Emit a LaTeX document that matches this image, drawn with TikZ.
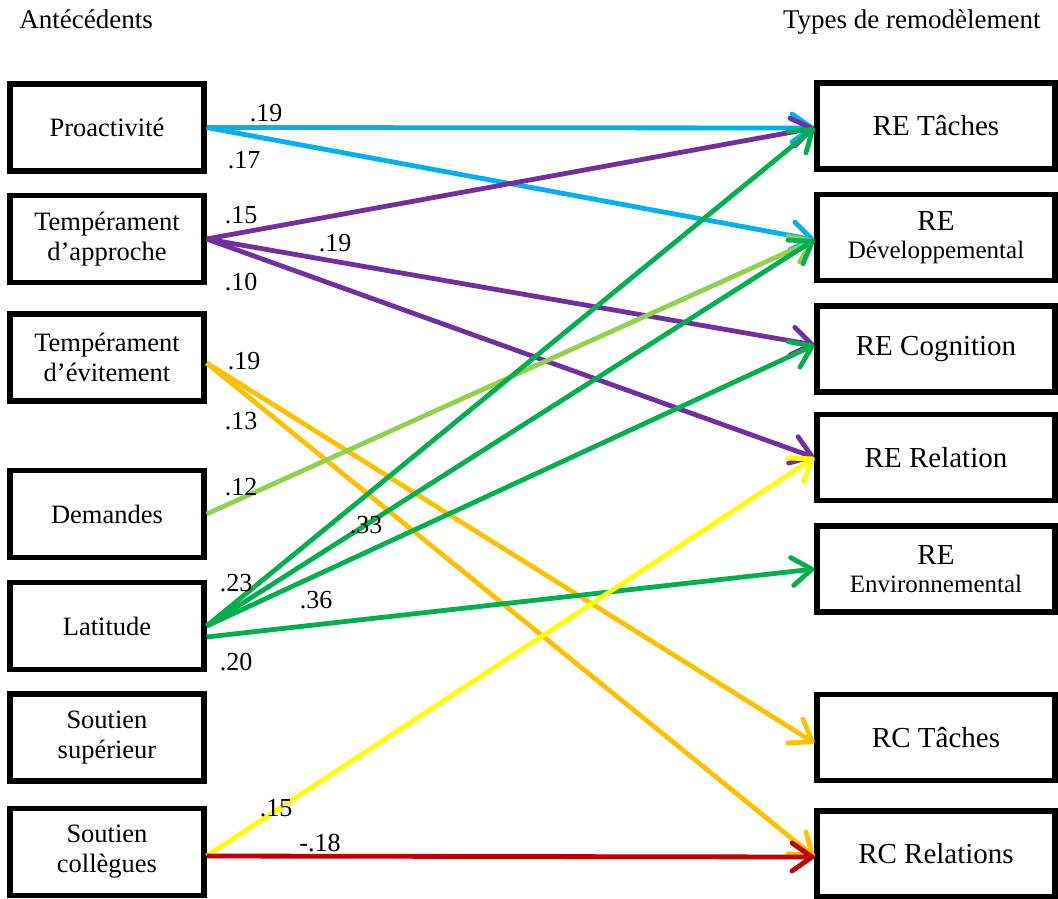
\documentclass[tikz,border=0pt]{standalone}
\usepackage{fontspec}
\setmainfont{Liberation Serif}
\usetikzlibrary{arrows.meta}
\definecolor{cCyan}{HTML}{00B0F0}
\definecolor{cPurple}{HTML}{7030A0}
\definecolor{cAmber}{HTML}{FFC000}
\definecolor{cLight}{HTML}{92D050}
\definecolor{cGreen}{HTML}{00B050}
\definecolor{cYellow}{HTML}{FFFF00}
\definecolor{cRed}{HTML}{C00000}
\begin{document}
\begin{tikzpicture}[x=0.5pt,y=-0.5pt,
  lbox/.style={draw, line width=2.6pt, minimum width=97pt, minimum height=43.5pt, inner sep=0pt, align=center, font=\fontsize{13.25}{15}\selectfont},
  rbox/.style={draw, line width=2.6pt, minimum width=119pt, minimum height=43pt, inner sep=0pt, align=center, font=\fontsize{14.5}{14}\selectfont},
  coef/.style={inner sep=0pt, font=\fontsize{13}{13}\selectfont},
  header/.style={inner sep=0pt, font=\fontsize{13.5}{13.5}\selectfont},
  link/.style={line width=2.4pt, -{Straight Barb[length=10pt,width=14pt,round]}}]
\useasboundingbox (0,0) rectangle (1058,898);

% headers
\node[header, anchor=base west] (hl) at (19,29) {Antécédents};
\node[header, anchor=base east] (hr) at (1041,29) {Types de remodèlement};

% left boxes
\node[lbox] (pro) at (107,127.5) {Proactivité};
\node[lbox] (tap) at (107,239) {Tempérament\\d’approche};
\node[lbox] (tev) at (107,357.5) {Tempérament\\d’évitement};
\node[lbox] (dem) at (107,514) {Demandes};
\node[lbox] (lat) at (107,626) {Latitude};
\node[lbox] (ssup) at (107,737.5) {Soutien\\supérieur};
\node[lbox] (scol) at (107,852) {Soutien\\collègues};

% right boxes
\node[rbox] (ret) at (936,126) {RE Tâches};
\node[rbox] (red) at (936,237.5) {RE\\{\fontsize{12.5}{14}\selectfont Développemental}};
\node[rbox] (rec) at (936,349) {RE Cognition};
\node[rbox] (rer) at (936,457.5) {RE Relation};
\node[rbox] (ree) at (936,569) {RE\\{\fontsize{12.5}{14}\selectfont Environnemental}};
\node[rbox] (rct) at (936,737.5) {RC Tâches};
\node[rbox] (rcr) at (936,854) {RC Relations};

% connectors
\draw[link, cCyan] (pro.east) -- ([yshift=-1pt]ret.west);
\draw[link, cCyan] (pro.east) -- ([yshift=-1.2pt]red.west);

\draw[link, cPurple] (tap.east) -- ([yshift=-1pt]ret.west);
\draw[link, cPurple] (tap.east) -- ([yshift=2pt]rec.west);
\draw[link, cPurple] (tap.east) -- (rer.west);

\draw[link, cAmber] ([yshift=-2.75pt]tev.east) -- ([yshift=-2.75pt]rct.west);
\draw[link, cAmber] ([yshift=-2.75pt]tev.east) -- ([yshift=-1.5pt]rcr.west);

\draw[link, cLight] (dem.east) -- ([yshift=-1.2pt]red.west);

\draw[link, cGreen] (lat.east) -- ([yshift=-1pt]ret.west);
\draw[link, cGreen] (lat.east) -- ([yshift=-1.2pt]red.west);
\draw[link, cGreen] (lat.east) -- ([yshift=2pt]rec.west);
\draw[link, cGreen] ([yshift=-5.5pt]lat.east) -- (ree.west);

\draw[link, cYellow] ([yshift=-2pt]scol.east) -- (rer.west);
\draw[link, cRed] ([yshift=-2pt]scol.east) -- ([yshift=-1.5pt]rcr.west);

% coefficients
\node[coef] (c1) at (266,113) {.19};
\node[coef] (c2) at (244,160) {.17};
\node[coef] (c3) at (241,215) {.15};
\node[coef] (c4) at (335,243) {.19};
\node[coef] (c5) at (241,282) {.10};
\node[coef] (c6) at (244,361) {.19};
\node[coef] (c7) at (241,421) {.13};
\node[coef] (c8) at (241,487) {.12};
\node[coef] (c9) at (366,525) {.33};
\node[coef] (c10) at (236,583) {.23};
\node[coef] (c11) at (316,600) {.36};
\node[coef] (c12) at (236,662) {.20};
\node[coef] (c13) at (276,808) {.15};
\node[coef] (c14) at (320,843) {-.18};
\end{tikzpicture}
\end{document}
